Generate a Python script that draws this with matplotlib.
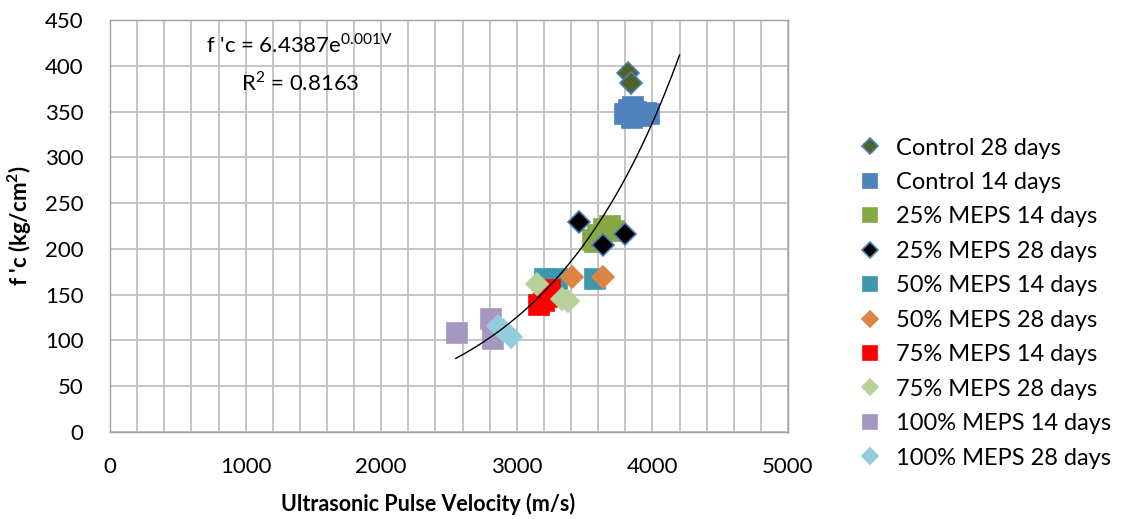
import numpy as np
import matplotlib
matplotlib.use("Agg")
import matplotlib.pyplot as plt

plt.rcParams['font.family'] = ['Lato', 'DejaVu Sans']

# Data
labels = ["Control 28 days", "Control 14 days", "25% MEPS 14 days", "25% MEPS 28 days",
          "50% MEPS 14 days", "50% MEPS 28 days", "75% MEPS 14 days", "75% MEPS 28 days",
          "100% MEPS 14 days", "100% MEPS 28 days"]

ctrl28_x = [3820, 3845]
ctrl28_y = [392, 381]
ctrl14_x = [3800, 3830, 3860, 3880, 3910, 3950, 3975, 3850]
ctrl14_y = [347, 352, 355, 350, 345, 348, 347, 343]
m25_14_x = [3560, 3600, 3640, 3690, 3715, 3580]
m25_14_y = [210, 215, 222, 225, 220, 207]
m25_28_x = [3460, 3633, 3798]
m25_28_y = [229, 204, 216]
m50_14_x = [3208, 3294, 3577]
m50_14_y = [167, 167, 167]
m50_28_x = [3405, 3633]
m50_28_y = [169, 169]
m75_14_x = [3165, 3200, 3225, 3245]
m75_14_y = [139, 143, 148, 155]
m75_28_x = [3147, 3330, 3378]
m75_28_y = [162, 145, 143]
m100_14_x = [2557, 2807, 2827]
m100_14_y = [108, 123, 102]
m100_28_x = [2860, 2900, 2955]
m100_28_y = [116, 111, 104]

trend_a = 6.4387
trend_b = 0.00099
trend_x0, trend_x1 = 2550, 4200

SQ = 14
DI = 11
series = [
    (ctrl28_x, ctrl28_y, 'D', '#4F6228', '#4A7EBB', DI),
    (ctrl14_x, ctrl14_y, 's', '#4F81BD', '#4F81BD', SQ),
    (m25_14_x, m25_14_y, 's', '#86A845', '#86A845', SQ),
    (m25_28_x, m25_28_y, 'D', '#000000', '#4A7EBB', DI),
    (m50_14_x, m50_14_y, 's', '#3E97AD', '#3E97AD', SQ),
    (m50_28_x, m50_28_y, 'D', '#DC8444', '#DC8444', DI),
    (m75_14_x, m75_14_y, 's', '#FF0000', '#FF0000', SQ),
    (m75_28_x, m75_28_y, 'D', '#B8D19A', '#B8D19A', DI),
    (m100_14_x, m100_14_y, 's', '#A597BF', '#A597BF', SQ),
    (m100_28_x, m100_28_y, 'D', '#93CDDD', '#93CDDD', DI),
]

fig = plt.figure(figsize=(11.23, 5.19), dpi=100)
ax = fig.add_axes([0.098, 0.1676, 0.6037, 0.7939])

handles = []
for (xs, ys, m, fc, ec, ms), lab in zip(series, labels):
    h, = ax.plot(xs, ys, linestyle='none', marker=m, markersize=ms,
                 markerfacecolor=fc, markeredgecolor=ec, markeredgewidth=1.2,
                 label=lab, zorder=3)
    handles.append(h)

tx = np.linspace(trend_x0, trend_x1, 200)
ax.plot(tx, trend_a * np.exp(trend_b * tx), color='black', lw=1.0, zorder=4)

ax.set_xlim(0, 5000)
ax.set_ylim(0, 450)
ax.set_xticks(np.arange(0, 5001, 1000))
ax.set_xticks(np.arange(0, 5001, 200), minor=True)
ax.set_yticks(np.arange(0, 451, 50))
ax.grid(True, which='both', axis='x', color='#C0C0C0', lw=1.3)
ax.grid(True, which='major', axis='y', color='#C0C0C0', lw=1.3)
ax.set_axisbelow(True)
for s in ax.spines.values():
    s.set_color('#A0A0A0')
    s.set_linewidth(1.0)
ax.tick_params(which='both', length=0, labelsize=16, colors='#000000')
ax.tick_params(axis='y', pad=19)
ax.tick_params(axis='x', pad=18)

ax.set_xlabel("Ultrasonic Pulse Velocity (m/s)", fontsize=15.5, fontweight='bold')
ax.xaxis.set_label_coords(0.469, -0.148)
ax.set_ylabel("f 'c (kg/cm$^\\mathregular{2}$)", fontsize=16, fontweight='bold', labelpad=8)

ax.text(1400, 423, "f 'c = 6.4387e$^\\mathregular{0.001V}$", fontsize=16, ha='center', va='center')
ax.text(1400, 382, "R$^\\mathregular{2}$ = 0.8163", fontsize=16, ha='center', va='center')

leg = fig.legend(handles=handles, loc='upper left', bbox_to_anchor=(0.766, 0.735),
                 frameon=False, fontsize=17, handlelength=0.8, handletextpad=0.7,
                 labelspacing=0.57, borderaxespad=0, borderpad=0, markerscale=0.7)

fig.savefig("out.png", dpi=100)
